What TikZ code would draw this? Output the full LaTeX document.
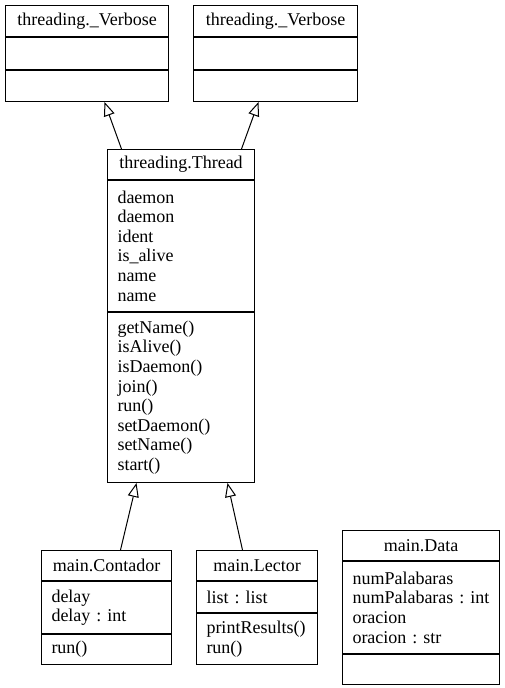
\documentclass[tikz,border=0pt]{standalone}
\usepackage{fontspec}
\setmainfont{Liberation Serif}
\usetikzlibrary{positioning}
\usetikzlibrary{arrows.meta}
\tikzstyle{classname} = [draw, anchor=north west, inner sep=0pt, minimum height=30pt]
\tikzstyle{members} = [draw, align=left, inner xsep=10pt, inner ysep=0pt]
\tikzstyle{inherit} = [-{Triangle[open,length=14pt,width=11pt]}]

\begin{document}
\begin{tikzpicture}[x=1pt, y=-1pt, line width=1pt, node distance=0pt, every node/.style={font=\fontsize{18}{19.6}\selectfont\frenchspacing}]
  \useasboundingbox (0,0) rectangle (505,688);
  % threading._Verbose (left)
  \node [classname, minimum width=163pt, minimum height=31pt] (verbA) at (5,5) {threading.\_Verbose};
  \node [members, below=of verbA, text width=143pt, minimum height=32pt] (verbAattr) {};
  \node [members, below=of verbAattr, text width=143pt, minimum height=31pt] (verbAops) {};
  % threading._Verbose (right)
  \node [classname, minimum width=164pt, minimum height=31pt] (verbB) at (193,5) {threading.\_Verbose};
  \node [members, below=of verbB, text width=144pt, minimum height=32pt] (verbBattr) {};
  \node [members, below=of verbBattr, text width=144pt, minimum height=31pt] (verbBops) {};
  % threading.Thread
  \node [classname, minimum width=147pt] (thread) at (107,149) {threading.Thread};
  \node [members, below=of thread, text width=127pt, minimum height=131pt] (threadattr)
    {daemon\\daemon\\ident\\is\_alive\\name\\name};
  \node [members, below=of threadattr, text width=127pt, minimum height=170pt] (threadops)
    {getName()\\isAlive()\\isDaemon()\\join()\\run()\\setDaemon()\\setName()\\start()};
  % main.Contador
  \node [classname, minimum width=130pt] (contador) at (41,550) {main.Contador};
  \node [members, below=of contador, text width=110pt, minimum height=52pt] (contadorattr)
    {delay\\delay : int};
  \node [members, below=of contadorattr, text width=110pt, minimum height=30pt] (contadorops)
    {run()};
  % main.Lector
  \node [classname, minimum width=121pt] (lector) at (196,550) {main.Lector};
  \node [members, below=of lector, text width=101pt, minimum height=31pt] (lectorattr)
    {list : list};
  \node [members, below=of lectorattr, text width=101pt, minimum height=51pt] (lectorops)
    {printResults()\\run()};
  % main.Data
  \node [classname, minimum width=157pt] (data) at (342,530) {main.Data};
  \node [members, below=of data, text width=137pt, minimum height=92pt] (dataattr)
    {numPalabaras\\numPalabaras : int\\oracion\\oracion : str};
  \node [members, below=of dataattr, text width=137pt, minimum height=30pt] (dataops) {};
  % inheritance
  \draw [inherit] ([xshift=-59.5pt]thread.north) -- ([xshift=17.5pt]verbAops.south);
  \draw [inherit] ([xshift=60.5pt]thread.north) -- ([xshift=-17pt]verbBops.south);
  \draw [inherit] ([xshift=14pt]contador.north) -- ([xshift=-44.5pt]threadops.south);
  \draw [inherit] ([xshift=-14.5pt]lector.north) -- ([xshift=46.5pt]threadops.south);
\end{tikzpicture}
\end{document}
